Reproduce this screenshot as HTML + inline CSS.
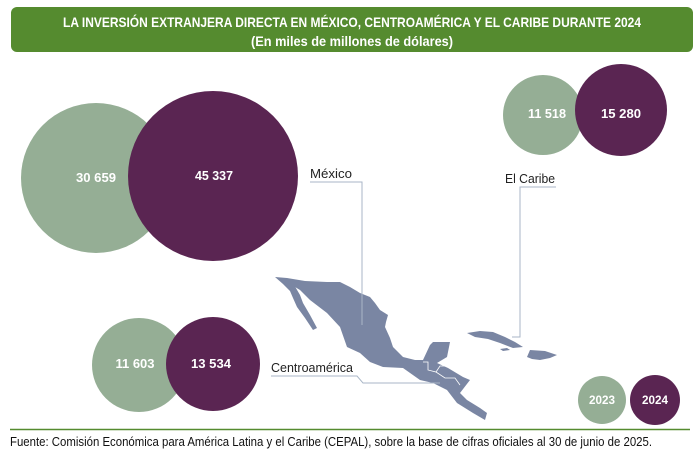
<!DOCTYPE html>
<html><head><meta charset="utf-8"><style>
html,body{margin:0;padding:0;background:#fff;}
svg{display:block;font-family:"Liberation Sans Narrow","Liberation Sans",sans-serif;}
</style></head><body>
<svg width="700" height="460" viewBox="0 0 700 460" xmlns="http://www.w3.org/2000/svg">
<rect x="11" y="7" width="682" height="45" rx="6" fill="#558b2f"/>
<text x="352" y="27" fill="#fff" font-size="14" font-weight="bold" text-anchor="middle" textLength="578" lengthAdjust="spacingAndGlyphs">LA INVERSIÓN EXTRANJERA DIRECTA EN MÉXICO, CENTROAMÉRICA Y EL CARIBE DURANTE 2024</text>
<text x="352" y="46" fill="#fff" font-size="14" font-weight="bold" text-anchor="middle" textLength="202" lengthAdjust="spacingAndGlyphs">(En miles de millones de dólares)</text>

<!-- Mexico -->
<circle cx="96" cy="178" r="75" fill="#95ae95"/>
<circle cx="213" cy="176" r="85" fill="#5a2552"/>
<text x="96" y="182" fill="#fff" font-size="13" font-weight="bold" text-anchor="middle" textLength="40" lengthAdjust="spacingAndGlyphs">30 659</text>
<text x="214" y="180" fill="#fff" font-size="13" font-weight="bold" text-anchor="middle" textLength="38" lengthAdjust="spacingAndGlyphs">45 337</text>

<!-- Caribe -->
<circle cx="543" cy="115" r="40" fill="#95ae95"/>
<circle cx="621" cy="110" r="46" fill="#5a2552"/>
<text x="547" y="118" fill="#fff" font-size="13" font-weight="bold" text-anchor="middle" textLength="38" lengthAdjust="spacingAndGlyphs">11 518</text>
<text x="621" y="118" fill="#fff" font-size="13" font-weight="bold" text-anchor="middle" textLength="40" lengthAdjust="spacingAndGlyphs">15 280</text>

<!-- Centroamerica -->
<circle cx="139" cy="365" r="47" fill="#95ae95"/>
<circle cx="213" cy="364" r="47" fill="#5a2552"/>
<text x="135" y="368" fill="#fff" font-size="13" font-weight="bold" text-anchor="middle" textLength="39" lengthAdjust="spacingAndGlyphs">11 603</text>
<text x="211" y="368" fill="#fff" font-size="13" font-weight="bold" text-anchor="middle" textLength="40" lengthAdjust="spacingAndGlyphs">13 534</text>

<!-- legend -->
<circle cx="602" cy="400" r="24" fill="#95ae95"/>
<circle cx="655" cy="400" r="25" fill="#5a2552"/>
<text x="602" y="404" fill="#fff" font-size="12" font-weight="bold" text-anchor="middle" textLength="26" lengthAdjust="spacingAndGlyphs">2023</text>
<text x="655" y="404" fill="#fff" font-size="12" font-weight="bold" text-anchor="middle" textLength="26" lengthAdjust="spacingAndGlyphs">2024</text>

<!-- map -->
<g fill="#7a86a3" stroke="none">
<path d="M275,277 L287,278 L305,281 L327,282 L340,282 L350,287 L360,293 L370,297 L375,303 L380,310 L388,315 L386,322 L385,327 L390,338 L393,347 L403,357 L415,360 L423,360 L430,345 L433,342 L450,342 L447,357 L437,363 L448,368 L463,377 L470,380 L460,393 L467,400 L480,408 L487,413 L485,420 L473,413 L457,403 L447,390 L433,383 L420,380 L403,368 L383,367 L370,362 L360,353 L347,347 L340,327 L327,313 L310,300 L300,290 L290,284 Z"/>
<path d="M275,277 L285,280 L293,283 L300,295 L303,303 L310,315 L317,328 L313,330 L305,318 L297,307 L293,298 L290,291 L283,284 Z"/>
<path d="M467,333 L480,331 L493,332 L505,337 L515,342 L523,347 L513,348 L500,343 L488,339 L475,337 Z"/>
<path d="M530,350 L545,351 L557,355 L550,358 L540,360 L532,359 L527,357 Z"/>
<path d="M500,349 L507,348 L510,350 L503,351 Z"/>
</g>
<g stroke="#fff" stroke-width="0.8" fill="none">
<path d="M423,362 L428,362 L428,370 L436,372 L440,366 L448,366"/>
<path d="M436,372 L445,378 L455,378 L460,385"/>
</g>

<!-- leaders -->
<g stroke="#a9b6c7" stroke-width="1" fill="none">
<path d="M310,182 L362,182 L362,325"/>
<path d="M556,187 L520,187 L520,337 L512,337"/>
<path d="M271,376 L357,376 L363,383 L440,383"/>
</g>
<text x="310" y="178" font-size="13" fill="#222" textLength="42" lengthAdjust="spacingAndGlyphs">México</text>
<text x="505" y="183" font-size="13" fill="#222" textLength="50" lengthAdjust="spacingAndGlyphs">El Caribe</text>
<text x="271" y="372" font-size="13" fill="#222" textLength="82" lengthAdjust="spacingAndGlyphs">Centroamérica</text>

<line x1="10" y1="429.5" x2="690" y2="429.5" stroke="#558b2f" stroke-width="1.5"/>
<text x="10" y="446" font-size="12.5" fill="#111" textLength="642" lengthAdjust="spacingAndGlyphs">Fuente: Comisión Económica para América Latina y el Caribe (CEPAL), sobre la base de cifras oficiales al 30 de junio de 2025.</text>
</svg>
</body></html>
